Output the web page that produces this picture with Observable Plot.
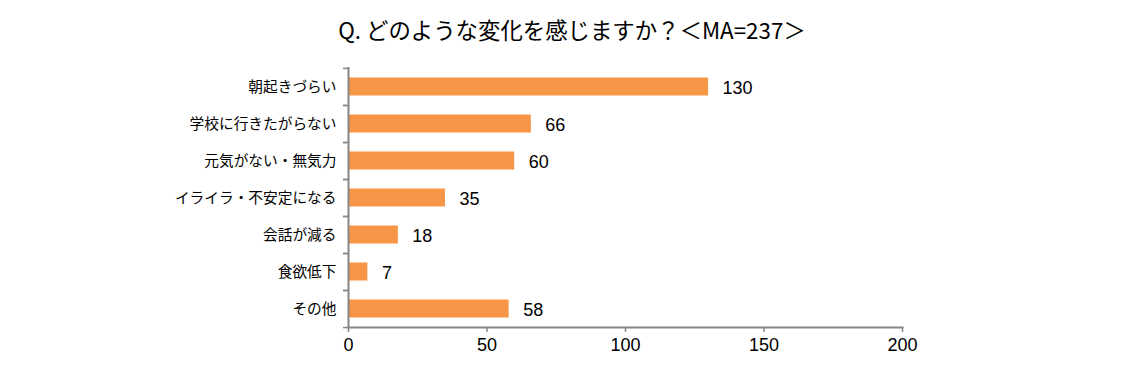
<!DOCTYPE html>
<html>
<head>
<meta charset="utf-8">
<script src="https://cdn.jsdelivr.net/npm/d3@7"></script>
<script src="https://cdn.jsdelivr.net/npm/@observablehq/plot@0.6"></script>
<style>
  html, body { margin: 0; padding: 0; background: #fff; }
  #wrap { position: relative; width: 1129px; height: 373px; overflow: hidden; background: #fff; }
  #title { position: absolute; z-index: 2; left: 0; width: 1144px; top: 13px; text-align: center;
    font-family: "Noto Sans CJK JP", sans-serif; font-size: 22.4px; color: #000; line-height: 32px; }
  #chart { position: absolute; z-index: 1; left: 0; top: 0; }
</style>
</head>
<body>
<div id="wrap">
  <div id="title">Q. どのような変化を感じますか？＜MA=237＞</div>
  <div id="chart"></div>
</div>
<script>
const categories = ["朝起きづらい", "学校に行きたがらない", "元気がない・無気力", "イライラ・不安定になる", "会話が減る", "食欲低下", "その他"];
const values = [130, 66, 60, 35, 18, 7, 58];
const xTicks = [0, 50, 100, 150, 200];

const data = categories.map((c, i) => ({category: c, value: values[i]}));
const gray = "#868686";
const step = 260 / categories.length;

const chart = Plot.plot({
  width: 1129,
  height: 373,
  marginTop: 67,
  marginBottom: 46,
  marginLeft: 348,
  marginRight: 227,
  style: {fontFamily: "'Noto Sans CJK JP', sans-serif", background: "transparent"},
  x: {domain: [0, 200]},
  y: {domain: categories, padding: 0},
  marks: [
    Plot.barX(data, {x: "value", y: "category", fill: "#F79646", insetTop: 9.5, insetBottom: 9.5}),
    Plot.text(data, {x: "value", y: "category", text: d => String(d.value), textAnchor: "start", dx: 14, dy: 1,
      fontSize: 18, fill: "#000", fontFamily: "'Liberation Sans Narrow', 'Liberation Sans', Arial, sans-serif"}),
    Plot.axisY({tickSize: 0, tickPadding: 12, fontSize: 14.7, fill: "#000", label: null}),
    Plot.axisY({tickSize: 5, text: null, dy: -step / 2, stroke: gray, strokeWidth: 1.5, label: null}),
    Plot.axisY({tickSize: 5, text: null, dy: step / 2, stroke: gray, strokeWidth: 1.5, label: null}),
    Plot.ruleX([0], {stroke: gray, strokeWidth: 2}),
    Plot.frame({anchor: "bottom", stroke: gray, strokeWidth: 2}),
    Plot.axisX({ticks: xTicks, tickSize: 5, tickPadding: 6, stroke: gray, strokeWidth: 1.5, fontSize: 18, fill: "#000",
      fontFamily: "'Liberation Sans Narrow', 'Liberation Sans', Arial, sans-serif", label: null, tickFormat: d => String(d)})
  ]
});
document.getElementById("chart").appendChild(chart);
</script>
</body>
</html>
